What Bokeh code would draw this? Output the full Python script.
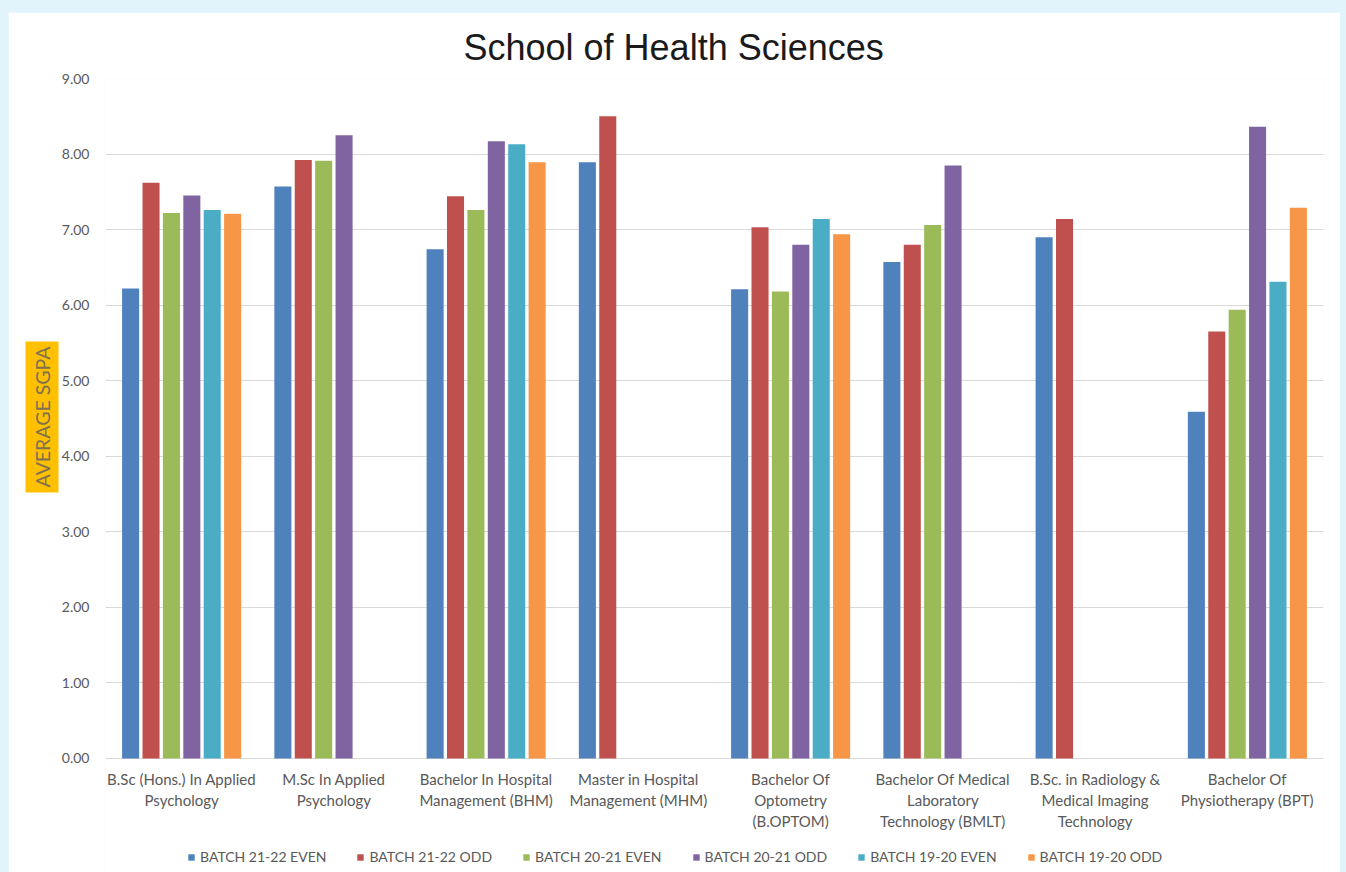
import math
from bokeh.plotting import figure
from bokeh.models import (FactorRange, Range1d, Legend, LegendItem, FixedTicker,
                          NumeralTickFormatter, ColumnDataSource, Title)
from bokeh.transform import dodge
from bokeh.embed import file_html
from bokeh.resources import INLINE

programs = [
    "B.Sc (Hons.) In Applied\nPsychology",
    "M.Sc In Applied\nPsychology",
    "Bachelor In Hospital\nManagement (BHM)",
    "Master in Hospital\nManagement (MHM)",
    "Bachelor Of\nOptometry\n(B.OPTOM)",
    "Bachelor Of Medical\nLaboratory\nTechnology (BMLT)",
    "B.Sc. in Radiology &\nMedical Imaging\nTechnology",
    "Bachelor Of\nPhysiotherapy (BPT)",
]

batches = ["BATCH 21-22 EVEN", "BATCH 21-22 ODD", "BATCH 20-21 EVEN",
           "BATCH 20-21 ODD", "BATCH 19-20 EVEN", "BATCH 19-20 ODD"]

batch_21_22_even = [6.22, 7.57, 6.74, 7.89, 6.21, 6.57, 6.90, 4.59]
batch_21_22_odd = [7.62, 7.92, 7.44, 8.50, 7.03, 6.80, 7.14, 5.65]
batch_20_21_even = [7.22, 7.91, 7.26, None, 6.18, 7.06, None, 5.94]
batch_20_21_odd = [7.45, 8.25, 8.17, None, 6.80, 7.85, None, 8.36]
batch_19_20_even = [7.26, None, 8.13, None, 7.14, None, None, 6.31]
batch_19_20_odd = [7.21, None, 7.89, None, 6.94, None, None, 7.29]

series = [batch_21_22_even, batch_21_22_odd, batch_20_21_even,
          batch_20_21_odd, batch_19_20_even, batch_19_20_odd]
colors = ["#4F81BD", "#C0504D", "#9BBB59", "#8064A2", "#4BACC6", "#F79646"]

y_ticks = [0, 1, 2, 3, 4, 5, 6, 7, 8, 9]
y_title = "AVERAGE SGPA"
chart_title = "School of Health Sciences"

FONT = "Lato"

# frame extends below y=0 to leave room for category labels and legend
p = figure(
    x_range=FactorRange(*programs, range_padding=0),
    y_range=Range1d(-1.509, 9),
    width=1332, height=860,
    output_backend="svg", toolbar_location=None,
    min_border_left=97, min_border_right=17, min_border_top=66, min_border_bottom=0,
)
p.background_fill_color = "white"
p.border_fill_color = "white"
p.outline_line_color = None

p.title.text = chart_title
p.title.align = "left"
p.title.offset = 358
p.title.standoff = 22
p.title.text_font = "Liberation Sans"
p.title.text_font_style = "normal"
p.title.text_font_size = "36px"
p.title.text_color = "#1a1a1a"

step = 0.134
width = 0.112
items = []
for i, (name, vals, col) in enumerate(zip(batches, series, colors)):
    xs = [prog for prog, v in zip(programs, vals) if v is not None]
    ys = [v for v in vals if v is not None]
    src = ColumnDataSource(dict(x=xs, top=ys))
    r = p.vbar(x=dodge("x", (i - 2.5) * step, range=p.x_range), top="top", bottom=0,
               width=width, source=src, fill_color=col, line_color=None)
    items.append(LegendItem(label=name, renderers=[r]))

legend = Legend(items=items, orientation="horizontal", location=(82, 7),
                glyph_width=8, glyph_height=8, label_text_font=FONT,
                label_text_font_size="14px", label_text_color="#595959",
                spacing=30, label_standoff=5, border_line_color=None,
                background_fill_alpha=0, margin=0, padding=0)
p.add_layout(legend, "center")

p.xgrid.grid_line_color = None
p.ygrid.grid_line_color = "#d9d9d9"
p.ygrid.grid_line_width = 1

p.yaxis.ticker = FixedTicker(ticks=y_ticks)
p.yaxis.formatter = NumeralTickFormatter(format="0.00")
p.yaxis.axis_line_color = None
p.yaxis.major_tick_line_color = None
p.yaxis.minor_tick_line_color = None
p.yaxis.major_label_text_font = FONT
p.yaxis.major_label_text_font_size = "14px"
p.yaxis.major_label_text_color = "#595959"
p.yaxis.major_label_standoff = 10

ytitle = Title(text=y_title, align="left", offset=380, standoff=0,
               text_font=FONT, text_font_size="19.5px", text_font_style="normal",
               text_color="#7f7050", background_fill_color="#FFC000", padding=5)
p.add_layout(ytitle, "left")

p.xaxis.fixed_location = 0
p.xaxis.axis_line_color = None
p.xaxis.major_tick_line_color = None
p.xaxis.minor_tick_line_color = None
p.xaxis.major_label_text_font = FONT
p.xaxis.major_label_text_font_size = "15px"
p.xaxis.major_label_text_color = "#595959"
p.xaxis.major_label_text_line_height = 1.15
p.xaxis.major_label_standoff = 6

html = file_html(p, INLINE, title=chart_title)
html = html.replace(
    "</head>",
    "<style>html,body{background:#e2f4fb;overflow:hidden;}"
    "body{padding:12px 0 0 8px !important;}</style></head>", 1)
open("out.html", "w").write(html)
